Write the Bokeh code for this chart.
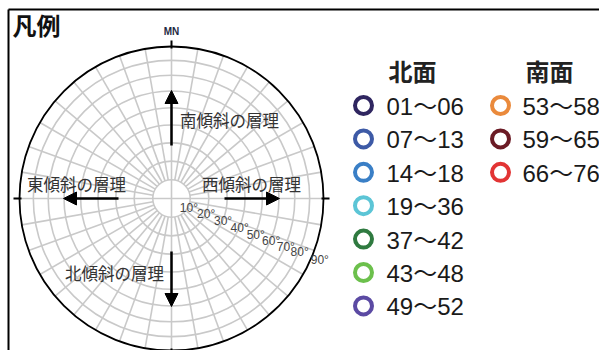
import numpy as np
from bokeh.plotting import figure
from bokeh.models import Range1d, Arrow, NormalHead
from bokeh.core.properties import value
from bokeh.embed import file_html
from bokeh.resources import INLINE

# ---- data ----
ring_degrees = [10, 20, 30, 40, 50, 60, 70, 80]
label_degrees = [10, 20, 30, 40, 50, 60, 70, 80, 90]
label_texts = ["10°", "20°", "30°", "40°", "50°", "60°", "70°", "80°", "90°"]
azimuths = list(range(0, 360, 10))
north_labels = ["01～06", "07～13", "14～18", "19～36", "37～42", "43～48", "49～52"]
north_colors = ["#2f2660", "#3d5aa6", "#3a7fc6", "#5cc5d6", "#2f7a40", "#6cc04c", "#5b4aa3"]
south_labels = ["53～58", "59～65", "66～76"]
south_colors = ["#ea8a3c", "#6b1b25", "#e23434"]
dir_labels = ["南傾斜の層理", "西傾斜の層理", "東傾斜の層理", "北傾斜の層理"]

# ---- layout ----
W, H = 599, 350
p = figure(width=W, height=H, output_backend="svg", toolbar_location=None,
           x_range=Range1d(0, W), y_range=Range1d(H, 0),
           min_border=0, outline_line_color=None)
p.axis.visible = False
p.grid.visible = False
p.background_fill_color = "white"

cx, cy, R = 171, 198, 152
def req(d):
    return R * np.sqrt(2) * np.sin(np.radians(d) / 2)

grid_col = "#c9c9c9"
# rings
p.circle(x=[cx] * len(ring_degrees), y=[cy] * len(ring_degrees),
         radius=[req(d) for d in ring_degrees], fill_color=None,
         line_color=grid_col, line_width=1.6)
# radial lines
r0 = req(10)
xs0, ys0, xs1, ys1 = [], [], [], []
for a in azimuths:
    t = np.radians(a)
    if a % 90 == 0 and a >= 180:
        continue
    start = -R if a % 90 == 0 else r0
    xs0.append(cx + start * np.sin(t)); ys0.append(cy - start * np.cos(t))
    xs1.append(cx + R * np.sin(t)); ys1.append(cy - R * np.cos(t))
p.segment(xs0, ys0, xs1, ys1, line_color=grid_col, line_width=1.6)
# outer circle
p.circle(x=[cx], y=[cy], radius=[R], fill_color=None, line_color="black", line_width=1.8)
# ticks
tx0, ty0, tx1, ty1 = [], [], [], []
for a in [0, 90, 180, 270]:
    t = np.radians(a)
    tx0.append(cx + (R - 2) * np.sin(t)); ty0.append(cy - (R - 2) * np.cos(t))
    tx1.append(cx + (R + 6) * np.sin(t)); ty1.append(cy - (R + 6) * np.cos(t))
p.segment(tx0, ty0, tx1, ty1, line_color="black", line_width=2)

p.text(x=[cx], y=[cy - R - 15], text=["MN"], text_font=value("Liberation Sans"),
       text_font_style="bold", text_font_size="10px", text_color="#1f2a44",
       text_align="center", text_baseline="middle")

# degree labels
ang = np.radians(22)
lr = [req(d) + (8 if d == 90 else 0) for d in label_degrees]
p.text(x=[cx + r * np.cos(ang) for r in lr], y=[cy + r * np.sin(ang) + 2 for r in lr],
       text=label_texts, text_font=value("Liberation Sans"), text_font_size="12px",
       text_color="#444444", text_align="center", text_baseline="middle")

# arrows
s_in, s_out = 53, 108
for dx, dy in [(0, -1), (1, 0), (-1, 0), (0, 1)]:
    p.add_layout(Arrow(end=NormalHead(size=13, fill_color="black", line_color="black"),
                       x_start=cx + dx * s_in, y_start=cy + dy * s_in,
                       x_end=cx + dx * s_out, y_end=cy + dy * s_out,
                       line_color="black", line_width=2.5))

p.text(x=[cx + 58, cx + 80, cx - 95, cx - 57], y=[cy - 79, cy - 15, cy - 15, cy + 74],
       text=dir_labels, text_font=value("Noto Sans CJK JP"), text_font_size="16.5px",
       text_color="#333333", text_align="center", text_baseline="middle")

# title
p.text(x=[12], y=[24], text=["凡例"], text_font=value("Noto Sans CJK JP"),
       text_font_size="24px", text_font_style="bold", text_color="#111111",
       text_align="left", text_baseline="middle")

# frame
p.segment([8], [9], [8], [H], line_color="black", line_width=2)
p.segment([8], [9], [W], [9], line_color="black", line_width=2)
p.segment([8], [352], [W], [352], line_color="#dddddd", line_width=1)

# legend
p.text(x=[412, 549], y=[70, 70], text=["北面", "南面"], text_font=value("Noto Sans CJK JP"),
       text_font_size="24px", text_font_style="bold", text_color="#222222",
       text_align="center", text_baseline="middle")
ny = [105 + 33.4 * i for i in range(len(north_labels))]
sy = [105 + 33.4 * i for i in range(len(south_labels))]
p.scatter(x=[363] * len(ny), y=ny, size=17, marker="circle", fill_color=None,
          line_color=north_colors, line_width=4)
p.scatter(x=[500] * len(sy), y=sy, size=17, marker="circle", fill_color=None,
          line_color=south_colors, line_width=4)
fnt = value("'Liberation Sans', 'Noto Sans CJK JP'")
p.text(x=[386] * len(ny), y=[v + 1 for v in ny], text=north_labels, text_font=fnt,
       text_font_size="24px", text_color="#1a1a1a", text_align="left", text_baseline="middle")
p.text(x=[522] * len(sy), y=[v + 1 for v in sy], text=south_labels, text_font=fnt,
       text_font_size="24px", text_color="#1a1a1a", text_align="left", text_baseline="middle")

open("out.html", "w").write(file_html(p, INLINE))
